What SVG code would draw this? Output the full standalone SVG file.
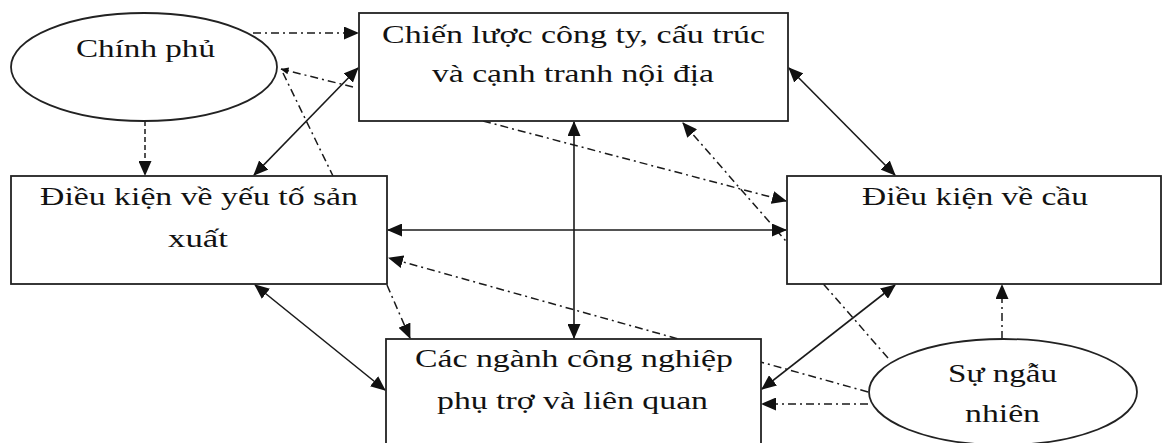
<svg xmlns="http://www.w3.org/2000/svg" width="1162" height="443" viewBox="0 0 1162 443">
<style>
.box{fill:#fff;stroke:#222;stroke-width:1.8}
.lbl{font-family:"Liberation Serif","Times New Roman",serif;font-size:26px;fill:#121212}
.solid{stroke:#1a1a1a;stroke-width:1.6;fill:none}
.dd{stroke:#1a1a1a;stroke-width:1.5;fill:none;stroke-dasharray:8 4 2 4}
.dash{stroke:#1a1a1a;stroke-width:1.5;fill:none;stroke-dasharray:5 3}
</style>
<defs>
<marker id="ah" markerUnits="userSpaceOnUse" markerWidth="15" markerHeight="13" viewBox="0 0 15 13" refX="14" refY="6.5" orient="auto-start-reverse">
<path d="M0,0 L15,6.5 L0,13 Z" fill="#111"/>
</marker>
<marker id="ahs" markerUnits="userSpaceOnUse" markerWidth="8" markerHeight="7" viewBox="0 0 8 7" refX="7.5" refY="3.5" orient="auto-start-reverse">
<path d="M0,0 L8,3.5 L0,7 Z" fill="#111"/>
</marker>
</defs>
<g id="connectors">
<line class="dd" x1="888" y1="358" x2="683" y2="123" marker-end="url(#ah)"/>
<line class="dd" x1="868" y1="392" x2="389" y2="258" marker-end="url(#ah)"/>
<line class="dd" x1="253" y1="33" x2="358" y2="33" marker-end="url(#ah)"/>
<line class="dd" x1="353" y1="87" x2="281" y2="69" marker-end="url(#ahs)"/>
<line class="dd" x1="283" y1="73" x2="333" y2="176"/>
<line class="dash" x1="145" y1="121" x2="145" y2="175" marker-end="url(#ah)"/>
<line class="solid" x1="254" y1="175" x2="358" y2="68" marker-start="url(#ah)" marker-end="url(#ah)"/>
<line class="solid" x1="789" y1="68" x2="895" y2="175" marker-start="url(#ah)" marker-end="url(#ah)"/>
<line class="solid" x1="574" y1="122" x2="574" y2="338" marker-start="url(#ah)" marker-end="url(#ah)"/>
<line class="solid" x1="388" y1="230" x2="786" y2="230" marker-start="url(#ah)" marker-end="url(#ah)"/>
<line class="dd" x1="483" y1="121" x2="786" y2="201" marker-end="url(#ah)"/>
<line class="dd" x1="387" y1="285" x2="410" y2="338" marker-end="url(#ah)"/>
<line class="solid" x1="255" y1="285" x2="385" y2="390" marker-start="url(#ah)" marker-end="url(#ah)"/>
<line class="solid" x1="895" y1="285" x2="762" y2="389" marker-start="url(#ah)" marker-end="url(#ah)"/>
<line class="dd" x1="868" y1="404" x2="762" y2="404" marker-end="url(#ah)"/>
<line class="dd" x1="1002" y1="339" x2="1002" y2="285" marker-end="url(#ah)"/>
</g>
<g id="chinh-phu">
<ellipse cx="144" cy="67" rx="133" ry="54" fill="#fff" stroke="#222" stroke-width="1.8"/>
<text class="lbl" x="76" y="57" textLength="139" lengthAdjust="spacingAndGlyphs">Chính phủ</text>
</g>
<g id="chien-luoc">
<rect class="box" x="359" y="13" width="429" height="108"/>
<text class="lbl" x="382" y="43" textLength="383" lengthAdjust="spacingAndGlyphs">Chiến lược công ty, cấu trúc</text>
<text class="lbl" x="432" y="82" textLength="282" lengthAdjust="spacingAndGlyphs">và cạnh tranh nội địa</text>
</g>
<g id="yeu-to">
<rect class="box" x="11" y="176" width="376" height="108"/>
<text class="lbl" x="40" y="205" textLength="318" lengthAdjust="spacingAndGlyphs">Điều kiện về yếu tố sản</text>
<text class="lbl" x="168" y="247" textLength="60" lengthAdjust="spacingAndGlyphs">xuất</text>
</g>
<g id="cau">
<rect class="box" x="787" y="176" width="374" height="108"/>
<text class="lbl" x="862" y="205" textLength="226" lengthAdjust="spacingAndGlyphs">Điều kiện về cầu</text>
</g>
<g id="nganh">
<rect class="box" x="386" y="339" width="375" height="120"/>
<text class="lbl" x="415" y="367" textLength="318" lengthAdjust="spacingAndGlyphs">Các ngành công nghiệp</text>
<text class="lbl" x="437" y="409" textLength="271" lengthAdjust="spacingAndGlyphs">phụ trợ và liên quan</text>
</g>
<g id="ngau-nhien">
<ellipse cx="1003" cy="392" rx="134" ry="53" fill="#fff" stroke="#222" stroke-width="1.8"/>
<text class="lbl" x="948" y="382" textLength="109" lengthAdjust="spacingAndGlyphs">Sự ngẫu</text>
<text class="lbl" x="965" y="422" textLength="75" lengthAdjust="spacingAndGlyphs">nhiên</text>
</g>
</svg>
